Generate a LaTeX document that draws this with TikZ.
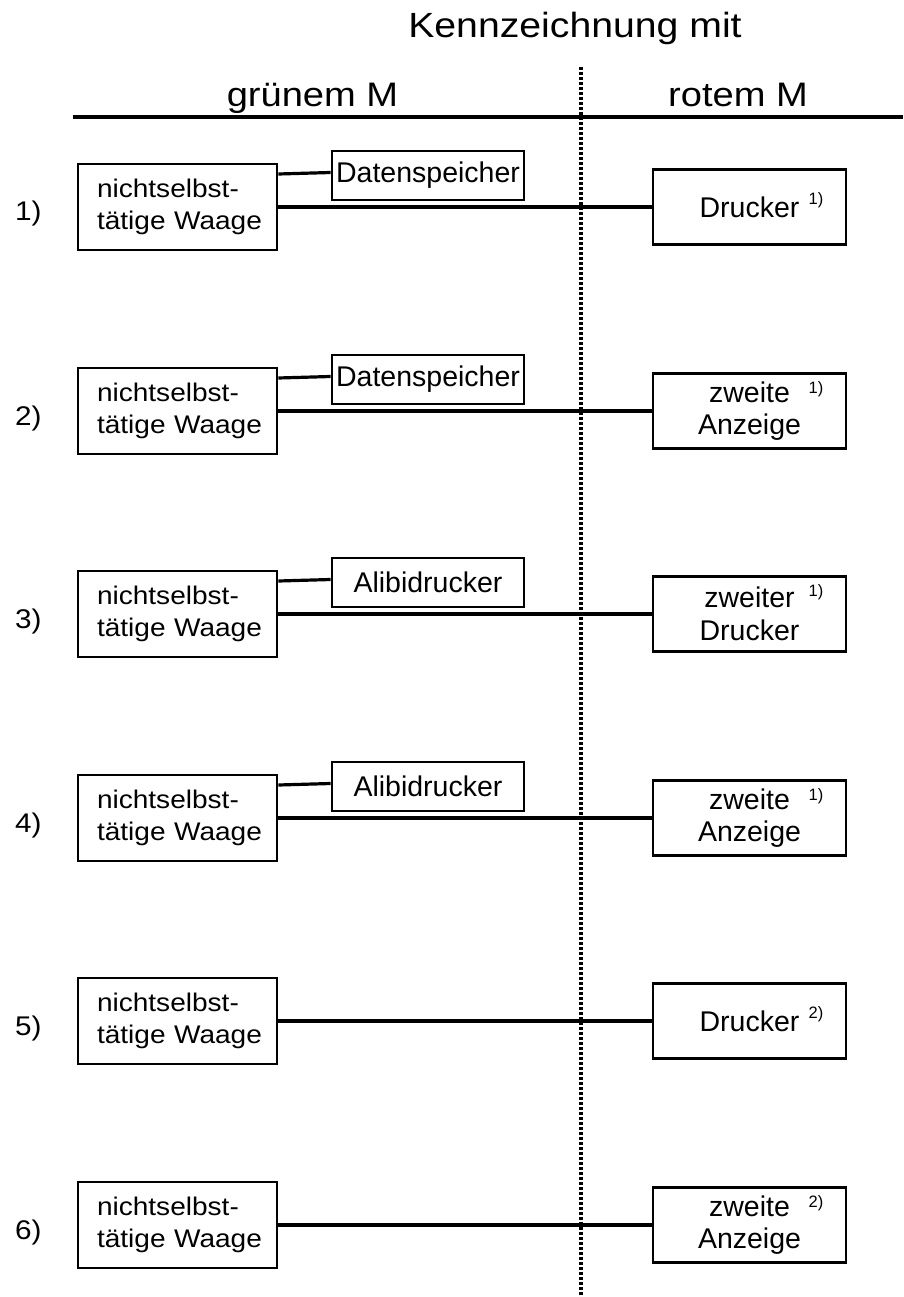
\documentclass[tikz,border=0pt]{standalone}
\usepackage{fontspec}
\setmainfont{Liberation Sans}
\newfontfamily\hdfont{Liberation Sans}[FakeStretch=1.12]
\newfontfamily\bxfont{Liberation Sans}[FakeStretch=1.1]
\usetikzlibrary{calc}
\begin{document}
\begin{tikzpicture}[x=1pt,y=-1pt,
  waage/.style={draw, line width=2.8pt, minimum width=199pt, minimum height=86pt,
    inner xsep=19pt, inner ysep=0pt, text width=161pt, align=left,
    font=\bxfont\fontsize{25.5}{32}\selectfont},
  aux/.style={draw, line width=2.8pt, minimum width=192pt, minimum height=49pt,
    inner sep=0pt, font=\fontsize{28.5}{32}\selectfont},
  dev/.style={draw, line width=2.8pt, minimum width=193pt, minimum height=75pt,
    inner sep=0pt, align=center, font=\fontsize{28.5}{32.5}\selectfont},
  note/.style={anchor=base west, inner sep=0pt, font=\fontsize{16.5}{16.5}\selectfont},
  rowlab/.style={anchor=base west, inner sep=0pt, font=\bxfont\fontsize{27}{27}\selectfont},
  head/.style={anchor=base, inner sep=0pt, font=\hdfont\fontsize{34}{34}\selectfont},
  conn/.style={line width=3.2pt},
]
\useasboundingbox (0,0) rectangle (903,1297);

% headings
\node[head, font=\hdfont\fontsize{35}{35}\selectfont] (title) at (575,38) {Kennzeichnung mit};
\node[head] (gM) at (312.5,107) {grünem M};
\node[head] (rM) at (738,107) {rotem M};
\coordinate (ruleL) at (73,117);
\coordinate (ruleR) at (903,117);
\draw[line width=3.2pt] (ruleL) -- (ruleR);
\coordinate (dtop) at (581,67);
\coordinate (dbot) at (581,1297);
\draw[line width=3.2pt, dash pattern=on 3.3pt off 1.7pt] (dtop) -- (dbot);

% row 1
\node[rowlab] (l1) at (15,221) {1)};
\node[waage] (w1) at (177.5,207) {nichtselbst-\\tätige~Waage};
\node[aux] (s1) at (428,175.5) {Datenspeicher};
\node[dev] (r1) at (749.5,207) {Drucker};
\node[note] (n1) at ($(r1.north east)+(-39,36)$) {1)};
\draw[conn] ([yshift=33pt]w1.east) -- ([yshift=3pt]s1.west);
\draw[conn] (w1.east) -- (r1.west);

% row 2
\node[rowlab] (l2) at (15,425) {2)};
\node[waage] (w2) at (177.5,411) {nichtselbst-\\tätige~Waage};
\node[aux] (s2) at (428,379.5) {Datenspeicher};
\node[dev] (r2) at (749.5,411) {zweite\\Anzeige};
\node[note] (n2) at ($(r2.north east)+(-39,21)$) {1)};
\draw[conn] ([yshift=33pt]w2.east) -- ([yshift=3pt]s2.west);
\draw[conn] (w2.east) -- (r2.west);

% row 3
\node[rowlab] (l3) at (15,628) {3)};
\node[waage] (w3) at (177.5,614) {nichtselbst-\\tätige~Waage};
\node[aux] (s3) at (428,582.5) {Alibidrucker};
\node[dev] (r3) at (749.5,614) {zweiter\\Drucker};
\node[note] (n3) at ($(r3.north east)+(-39,21)$) {1)};
\draw[conn] ([yshift=33pt]w3.east) -- ([yshift=3pt]s3.west);
\draw[conn] (w3.east) -- (r3.west);

% row 4
\node[rowlab] (l4) at (15,832) {4)};
\node[waage] (w4) at (177.5,818) {nichtselbst-\\tätige~Waage};
\node[aux] (s4) at (428,786.5) {Alibidrucker};
\node[dev] (r4) at (749.5,818) {zweite\\Anzeige};
\node[note] (n4) at ($(r4.north east)+(-39,21)$) {1)};
\draw[conn] ([yshift=33pt]w4.east) -- ([yshift=3pt]s4.west);
\draw[conn] (w4.east) -- (r4.west);

% row 5
\node[rowlab] (l5) at (15,1035) {5)};
\node[waage] (w5) at (177.5,1021) {nichtselbst-\\tätige~Waage};
\node[dev] (r5) at (749.5,1021) {Drucker};
\node[note] (n5) at ($(r5.north east)+(-39,36)$) {2)};
\draw[conn] (w5.east) -- (r5.west);

% row 6
\node[rowlab] (l6) at (15,1239) {6)};
\node[waage] (w6) at (177.5,1225) {nichtselbst-\\tätige~Waage};
\node[dev] (r6) at (749.5,1225) {zweite\\Anzeige};
\node[note] (n6) at ($(r6.north east)+(-39,21)$) {2)};
\draw[conn] (w6.east) -- (r6.west);
\end{tikzpicture}
\end{document}
